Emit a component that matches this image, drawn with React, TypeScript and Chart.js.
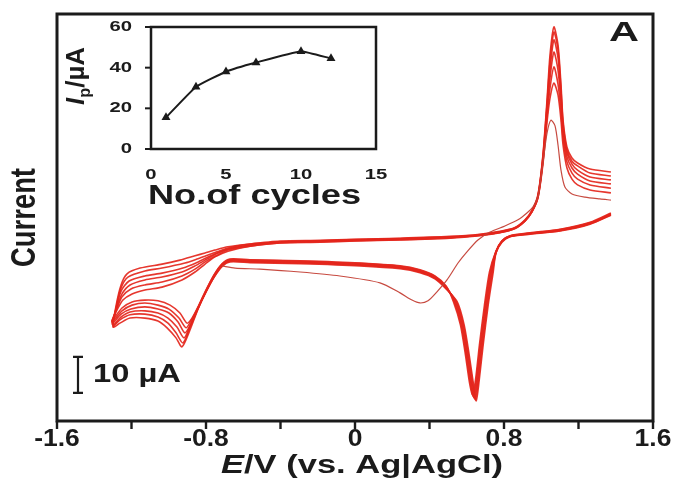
import React, { useEffect, useRef } from 'react';
import { Chart, registerables } from 'chart.js';

Chart.register(...registerables);

// ---------- main CV data (E in V vs Ag|AgCl, I in µA) ----------
const X_TICKS = [-1.6, -1.2, -0.8, -0.4, 0, 0.4, 0.8, 1.2, 1.6];
const X_TICK_LABELS = ['-1.6', '', '-0.8', '', '0', '', '0.8', '', '1.6'];
const Y_MIN = -50.3;
const Y_MAX = 62.8;
const SCALE_BAR = [-42.5, -32.5];

// first (thin) cycle
const CYCLE1_E = [-0.714, -0.644, -0.510, -0.295, -0.081, 0.134, 0.242, 0.306, 0.349, 0.392, 0.440, 0.494, 0.553, 0.601, 0.660, 0.725, 0.805, 0.875, 0.923, 0.956, 0.983, 1.009, 1.031, 1.052, 1.074, 1.090, 1.106, 1.127, 1.165, 1.235, 1.315, 1.374];
const CYCLE1_I = [-7.2, -7.8, -8.1, -8.9, -10.0, -11.9, -14.7, -16.7, -17.5, -16.9, -14.4, -11.1, -6.4, -3.3, 0.0, 2.2, 3.9, 5.6, 7.5, 9.2, 12.2, 21.4, 29.7, 33.3, 31.7, 26.4, 19.4, 14.7, 12.8, 11.9, 11.4, 11.1];

// shared potential segments
const E_CATH_RIGHT = [1.374, 1.262, 1.101, 0.940, 0.832, 0.789, 0.757];
const E_CATH_LEFT = [0.489, 0.429, 0.349, 0.242, 0.027, -0.295, -0.564, -0.671, -0.714, -0.757, -0.805, -0.843];
const E_BAND = [-0.188, 0.000, 0.242, 0.510, 0.671, 0.778, 0.859, 0.913, 0.950];
const E_PEAK = [0.982, 1.009, 1.031, 1.047, 1.068, 1.090, 1.106, 1.117, 1.138, 1.165, 1.195, 1.262, 1.374];

const CYCLE2_E = [...E_CATH_RIGHT, 0.722, 0.695, 0.668, 0.647, 0.631, 0.615, 0.593, 0.566, 0.529, ...E_CATH_LEFT,
  -0.875, -0.902, -0.940, -0.993, -1.058, -1.128, -1.197, -1.251, -1.305,
  -1.283, -1.246, -1.197, -1.128, -1.036, -0.929, -0.859, -0.805, -0.752, -0.682, -0.564, -0.403, ...E_BAND, ...E_PEAK];
const CYCLE2_I = [7.5, 4.9, 3.0, 2.0, 1.2, -0.2, -3.1,
  -8.9, -18.1, -29.2, -38.9, -43.0, -39.7, -31.9, -23.6, -17.2,
  -12.8, -10.0, -8.3, -7.2, -6.4, -5.8, -5.5, -5.3, -6.6, -9.7, -14.4, -18.6,
  -21.7, -23.1, -20.3, -18.1, -16.9, -16.7, -17.2, -18.9, -22.5,
  -20.0, -16.7, -15.0, -13.9, -13.1, -11.1, -8.9, -6.7, -4.7, -3.1, -1.7, -0.8,
  -0.6, -0.3, 0.0, 0.5, 1.2, 2.0, 3.2, 5.3, 7.8,
  11.7, 21.1, 32.8, 39.4, 43.6, 40.3, 33.3, 26.4, 20.0, 16.9, 15.3, 13.9, 13.1];

const CYCLE3_E = [...E_CATH_RIGHT, 0.726, 0.699, 0.672, 0.651, 0.635, 0.619, 0.597, 0.570, 0.533, ...E_CATH_LEFT,
  -0.881, -0.907, -0.945, -0.999, -1.058, -1.128, -1.197, -1.251, -1.305,
  -1.283, -1.251, -1.203, -1.128, -1.036, -0.929, -0.859, -0.805, -0.746, -0.682, -0.564, -0.403, ...E_BAND, ...E_PEAK];
const CYCLE3_I = [7.3, 4.8, 2.9, 1.9, 1.1, -0.3, -3.2,
  -8.9, -18.1, -29.2, -38.9, -43.4, -39.7, -31.9, -23.6, -17.2,
  -12.9, -10.1, -8.4, -7.3, -6.5, -5.9, -5.6, -5.4, -6.7, -9.8, -14.6, -18.8,
  -22.5, -24.4, -21.7, -19.2, -18.1, -17.5, -18.1, -19.7, -22.8,
  -19.7, -15.8, -13.6, -12.5, -11.7, -10.0, -8.1, -6.1, -4.4, -2.8, -1.7, -0.8,
  -0.5, -0.2, 0.1, 0.6, 1.3, 2.1, 3.2, 5.3, 7.8,
  11.7, 21.7, 34.2, 42.2, 48.1, 43.3, 35.6, 28.3, 21.7, 18.6, 16.9, 15.3, 14.4];

const CYCLE4_E = [...E_CATH_RIGHT, 0.730, 0.703, 0.676, 0.655, 0.639, 0.623, 0.601, 0.574, 0.537, ...E_CATH_LEFT,
  -0.881, -0.913, -0.950, -0.999, -1.058, -1.128, -1.203, -1.256, -1.305,
  -1.283, -1.251, -1.208, -1.128, -1.036, -0.929, -0.859, -0.805, -0.746, -0.682, -0.564, -0.403, ...E_BAND, ...E_PEAK];
const CYCLE4_I = [7.2, 4.7, 2.8, 1.9, 1.1, -0.3, -3.3,
  -8.9, -18.1, -29.2, -38.9, -43.8, -39.7, -31.9, -23.6, -17.2,
  -13.1, -10.3, -8.6, -7.5, -6.7, -6.1, -5.8, -5.6, -6.9, -10.0, -14.7, -18.9,
  -23.3, -25.8, -22.8, -20.3, -19.2, -18.6, -19.2, -20.6, -23.3,
  -19.4, -15.0, -12.5, -11.1, -10.3, -8.9, -7.2, -5.6, -3.9, -2.5, -1.4, -0.6,
  -0.4, -0.1, 0.2, 0.7, 1.3, 2.1, 3.3, 5.3, 7.9,
  11.9, 22.2, 35.6, 45.0, 52.2, 47.2, 38.1, 30.0, 23.1, 20.0, 18.3, 16.4, 15.6];

const CYCLE5_E = [...E_CATH_RIGHT, 0.734, 0.707, 0.680, 0.659, 0.643, 0.627, 0.605, 0.578, 0.541, ...E_CATH_LEFT,
  -0.886, -0.918, -0.956, -1.004, -1.058, -1.128, -1.208, -1.256, -1.299,
  -1.283, -1.256, -1.213, -1.128, -1.036, -0.924, -0.854, -0.800, -0.741, -0.682, -0.564, -0.403, ...E_BAND, ...E_PEAK];
const CYCLE5_I = [7.1, 4.6, 2.7, 1.8, 1.0, -0.4, -3.4,
  -8.9, -18.1, -29.2, -38.9, -44.1, -39.7, -31.9, -23.6, -17.2,
  -13.3, -10.5, -8.8, -7.7, -6.9, -6.3, -6.0, -5.8, -7.1, -10.2, -14.8, -19.0,
  -23.9, -27.2, -24.2, -21.7, -20.3, -19.7, -20.0, -21.4, -23.6,
  -19.2, -14.2, -11.4, -10.0, -9.2, -7.8, -6.4, -5.0, -3.6, -2.5, -1.4, -0.6,
  -0.3, 0.0, 0.3, 0.8, 1.4, 2.2, 3.3, 5.4, 8.0,
  12.2, 22.8, 36.7, 47.2, 55.6, 50.6, 40.3, 31.4, 24.2, 21.1, 19.4, 17.5, 16.7];

const CYCLE6_E = [...E_CATH_RIGHT, 0.738, 0.711, 0.684, 0.663, 0.647, 0.631, 0.609, 0.582, 0.545, ...E_CATH_LEFT,
  -0.886, -0.924, -0.961, -1.004, -1.058, -1.128, -1.208, -1.262, -1.299,
  -1.283, -1.256, -1.219, -1.128, -1.036, -0.913, -0.848, -0.800, -0.741, -0.682, -0.564, -0.403, ...E_BAND, ...E_PEAK];
const CYCLE6_I = [7.0, 4.5, 2.6, 1.7, 1.0, -0.5, -3.5,
  -8.9, -18.1, -29.2, -38.9, -44.4, -39.7, -31.9, -23.6, -17.2,
  -13.4, -10.6, -8.9, -7.8, -7.0, -6.4, -6.1, -5.9, -7.2, -10.3, -14.9, -19.1,
  -24.4, -28.6, -25.8, -23.1, -21.4, -20.6, -20.8, -22.2, -23.9,
  -18.9, -13.3, -10.3, -8.6, -7.8, -6.4, -5.3, -4.4, -3.3, -2.2, -1.1, -0.6,
  -0.2, 0.1, 0.4, 0.9, 1.5, 2.3, 3.4, 5.5, 8.1,
  12.2, 23.1, 37.8, 49.4, 57.8, 52.8, 41.7, 32.5, 25.0, 21.9, 20.6, 18.6, 17.8];

const CYCLE7_E = [...E_CATH_RIGHT, 0.742, 0.715, 0.688, 0.667, 0.651, 0.635, 0.613, 0.586, 0.549, ...E_CATH_LEFT,
  -0.886, -0.929, -0.961, -1.009, -1.058, -1.128, -1.208, -1.262, -1.299,
  -1.283, -1.256, -1.224, -1.154, -1.036, -0.940, -0.859, -0.805, -0.752, -0.682, -0.564, -0.403, ...E_BAND, ...E_PEAK];
const CYCLE7_I = [6.9, 4.4, 2.5, 1.6, 0.9, -0.6, -3.6,
  -8.9, -18.1, -29.2, -38.9, -44.7, -39.7, -31.9, -23.6, -17.2,
  -13.6, -10.8, -9.1, -8.0, -7.2, -6.6, -6.3, -6.1, -7.4, -10.4, -15.0, -19.2,
  -25.0, -29.7, -27.2, -24.4, -22.5, -21.7, -21.7, -23.1, -24.2,
  -18.3, -12.5, -9.4, -7.8, -6.7, -5.6, -4.4, -3.6, -2.8, -1.9, -1.1, -0.3,
  -0.1, 0.2, 0.5, 1.0, 1.6, 2.4, 3.5, 5.6, 8.2,
  12.5, 23.6, 38.9, 51.4, 59.2, 54.2, 43.1, 33.3, 25.8, 22.8, 21.4, 19.7, 18.9];

// ---------- inset data ----------
const INSET_CYCLES = [1, 3, 5, 7, 10, 12];
const INSET_IP = [15.5, 30.5, 38, 42.5, 48, 44.5];
const INSET_X_TICKS = [0, 5, 10, 15];
const INSET_Y_TICKS = [0, 20, 40, 60];

const FONT = '"Liberation Sans", Arial, Helvetica, sans-serif';
const INK = '#1b1b1b';

type Part = { t: string; italic?: boolean; sub?: boolean };
type TextOpts = { w?: number; sx?: number; sy?: number; align?: 'left' | 'center' | 'right'; rot?: number };

function drawText(ctx: CanvasRenderingContext2D, parts: Part[], x: number, y: number, size: number, o: TextOpts = {}) {
  ctx.save();
  ctx.textBaseline = 'middle';
  ctx.textAlign = 'left';
  ctx.fillStyle = INK;
  const fonts = parts.map(p => `${p.italic ? 'italic ' : ''}bold ${p.sub ? Math.round(size * 0.62) : size}px ${FONT}`);
  const widths = parts.map((p, i) => { ctx.font = fonts[i]; return ctx.measureText(p.t).width; });
  const total = widths.reduce((a, b) => a + b, 0);
  const sx = o.w ? o.w / total : (o.sx ?? 1);
  ctx.translate(x, y);
  if (o.rot) ctx.rotate(o.rot);
  ctx.scale(sx, o.sy ?? 1);
  let cx = o.align === 'left' ? 0 : o.align === 'right' ? -total : -total / 2;
  parts.forEach((p, i) => {
    ctx.font = fonts[i];
    ctx.fillText(p.t, cx, p.sub ? size * 0.32 : 0);
    cx += widths[i];
  });
  ctx.restore();
}

const mainDecor = {
  id: 'mainDecor',
  afterDraw(chart: any) {
    const { ctx, chartArea: a, scales } = chart;
    const xs = scales.x, ys = scales.y;
    ctx.save();
    ctx.strokeStyle = INK;
    ctx.lineWidth = 3;
    ctx.strokeRect(a.left, a.top, a.right - a.left, a.bottom - a.top);
    ctx.lineWidth = 2.4;
    X_TICKS.forEach((v, i) => {
      const px = xs.getPixelForValue(v);
      ctx.beginPath();
      ctx.moveTo(px, a.bottom);
      ctx.lineTo(px, a.bottom + 8);
      ctx.stroke();
      if (X_TICK_LABELS[i]) drawText(ctx, [{ t: X_TICK_LABELS[i] }], px, a.bottom + 19, 23, { sx: 1.15 });
    });
    drawText(ctx, [{ t: 'E', italic: true }, { t: '/V (vs. Ag|AgCl)' }], (a.left + a.right) / 2 + 7, a.bottom + 45, 26, { w: 282 });
    drawText(ctx, [{ t: 'Current' }], a.left - 32, (a.top + a.bottom) / 2, 27, { w: 99, sy: 1.3, rot: -Math.PI / 2 });
    // scale bar
    const y0 = ys.getPixelForValue(SCALE_BAR[0]);
    const y1 = ys.getPixelForValue(SCALE_BAR[1]);
    const bx = a.left + 21;
    ctx.lineWidth = 2.2;
    ctx.beginPath();
    ctx.moveTo(bx, y0); ctx.lineTo(bx, y1);
    ctx.moveTo(bx - 5, y0); ctx.lineTo(bx + 5, y0);
    ctx.moveTo(bx - 5, y1); ctx.lineTo(bx + 5, y1);
    ctx.stroke();
    drawText(ctx, [{ t: '10 µA' }], bx + 15, (y0 + y1) / 2, 25, { w: 88, align: 'left' });
    drawText(ctx, [{ t: 'A' }], a.right - 29, a.top + 20, 27, { w: 30 });
    ctx.restore();
  },
};

const insetDecor = {
  id: 'insetDecor',
  afterDraw(chart: any) {
    const { ctx, chartArea: a, scales } = chart;
    const xs = scales.x, ys = scales.y;
    ctx.save();
    ctx.strokeStyle = INK;
    ctx.lineWidth = 2.5;
    ctx.strokeRect(a.left, a.top, a.right - a.left, a.bottom - a.top);
    ctx.lineWidth = 2;
    INSET_Y_TICKS.forEach(v => {
      const py = ys.getPixelForValue(v);
      ctx.beginPath();
      ctx.moveTo(a.left - 6, py);
      ctx.lineTo(a.left, py);
      ctx.stroke();
      drawText(ctx, [{ t: String(v) }], a.left - 19, py, 15, { sx: 1.35, align: 'right' });
    });
    INSET_X_TICKS.forEach(v => {
      const px = xs.getPixelForValue(v);
      drawText(ctx, [{ t: String(v) }], px, a.bottom + 26, 15, { sx: 1.35 });
    });
    drawText(ctx, [{ t: 'No.of cycles' }], (a.left + a.right) / 2 - 9, a.bottom + 48, 27, { w: 213 });
    drawText(ctx, [{ t: 'I', italic: true }, { t: 'p', sub: true }, { t: '/µA' }], a.left - 74, (a.top + a.bottom) / 2 - 12, 22, { w: 58, sy: 1.15, rot: -Math.PI / 2 });
    ctx.restore();
  },
};

export default function App() {
  const mainRef = useRef<HTMLCanvasElement>(null);
  const insetRef = useRef<HTMLCanvasElement>(null);

  useEffect(() => {
    const cycles: [number[], number[]][] = [
      [CYCLE1_E, CYCLE1_I], [CYCLE2_E, CYCLE2_I], [CYCLE3_E, CYCLE3_I], [CYCLE4_E, CYCLE4_I],
      [CYCLE5_E, CYCLE5_I], [CYCLE6_E, CYCLE6_I], [CYCLE7_E, CYCLE7_I],
    ];
    const main = new Chart(mainRef.current!, {
      type: 'scatter',
      data: {
        datasets: cycles.map(([e, i], k) => ({
          label: `cycle ${k + 1}`,
          data: e.map((x, n) => ({ x, y: i[n] })),
          showLine: true,
          borderColor: k === 0 ? 'rgba(196,64,54,0.95)' : 'rgba(228,38,28,0.92)',
          borderWidth: k === 0 ? 1.2 : 1.6,
          pointRadius: 0,
          tension: 0.25,
          fill: false,
        })),
      },
      options: {
        responsive: false,
        animation: false,
        devicePixelRatio: 1,
        layout: { padding: { left: 57, top: 14, right: 22, bottom: 64 } },
        plugins: { legend: { display: false }, tooltip: { enabled: false } },
        scales: {
          x: { type: 'linear', display: false, min: -1.6, max: 1.6 },
          y: { type: 'linear', display: false, min: Y_MIN, max: Y_MAX },
        },
      },
      plugins: [mainDecor],
    });

    const inset = new Chart(insetRef.current!, {
      type: 'line',
      data: {
        datasets: [{
          label: 'Ip',
          data: INSET_CYCLES.map((c, n) => ({ x: c, y: INSET_IP[n] })),
          borderColor: INK,
          backgroundColor: INK,
          borderWidth: 2,
          pointStyle: 'triangle',
          pointRadius: 3.2,
          tension: 0.15,
        }],
      },
      options: {
        responsive: false,
        animation: false,
        devicePixelRatio: 1,
        layout: { padding: { left: 91, top: 17, right: 14, bottom: 66 } },
        plugins: { legend: { display: false }, tooltip: { enabled: false } },
        scales: {
          x: { type: 'linear', display: false, min: 0, max: 15 },
          y: { type: 'linear', display: false, min: 0, max: 60 },
        },
      },
      plugins: [insetDecor],
    });

    return () => { main.destroy(); inset.destroy(); };
  }, []);

  return (
    <div style={{ position: 'fixed', left: 0, top: 0, width: 675, height: 485, background: '#fff' }}>
      <canvas ref={mainRef} width={675} height={485} style={{ position: 'absolute', left: 0, top: 0, width: 675, height: 485 }} />
      <canvas ref={insetRef} width={330} height={205} style={{ position: 'absolute', left: 60, top: 10, width: 330, height: 205 }} />
    </div>
  );
}
